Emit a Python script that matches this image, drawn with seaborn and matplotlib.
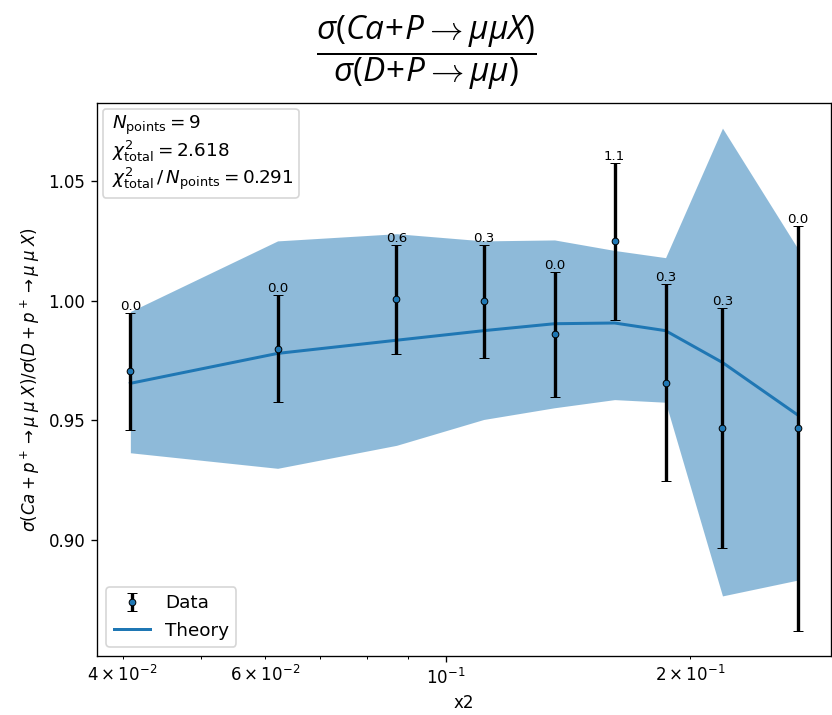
import matplotlib
matplotlib.use("Agg")
import matplotlib.pyplot as plt
import pandas as pd
import seaborn as sns
from matplotlib.patches import Patch

# Kinematic bins and measured ratio
x2 = [0.0409, 0.0621, 0.0870, 0.1114, 0.1362, 0.1615, 0.1866, 0.2193, 0.2714]
data = [0.9705, 0.9799, 1.0006, 0.9997, 0.9859, 1.0248, 0.9658, 0.9468, 0.9467]
data_err = [0.0245, 0.0223, 0.0227, 0.0237, 0.0262, 0.0328, 0.0410, 0.0500, 0.0846]

# Theory prediction with its uncertainty band
theory = [0.9655, 0.9780, 0.9835, 0.9875, 0.9904, 0.9907, 0.9875, 0.9742, 0.9523]
theory_hi = [0.9955, 1.0250, 1.0280, 1.0250, 1.0254, 1.0210, 1.0180, 1.0721, 1.0219]
theory_lo = [0.9365, 0.9300, 0.9396, 0.9504, 0.9553, 0.9587, 0.9576, 0.8767, 0.8833]

# Per-point chi2 contributions
chi2 = [0.0, 0.0, 0.6, 0.3, 0.0, 1.1, 0.3, 0.3, 0.0]
n_points = 9
chi2_total = 2.618
chi2_per_point = 0.291

plt.rcParams["mathtext.rm"] = "Open Sans"
plt.rcParams["mathtext.it"] = "Open Sans:italic"
plt.rcParams["mathtext.bf"] = "Open Sans:bold"

df = pd.DataFrame({"x2": x2, "theory": theory})

fig = plt.figure(figsize=(832 / 120, 715 / 120), dpi=120)
ax = fig.add_axes([97 / 832, 1 - 656 / 715, (831 - 97) / 832, (656 - 103) / 715])
ax.set_xscale("log")

ax.fill_between(x2, theory_lo, theory_hi, color="C0", alpha=0.5, linewidth=0)
sns.lineplot(data=df, x="x2", y="theory", ax=ax, color="C0", linewidth=1.8,
             label="Theory")
eb = ax.errorbar(x2, data, yerr=data_err, fmt="o", color="black", ecolor="black",
                 elinewidth=2, capsize=3, capthick=2, markersize=4,
                 markerfacecolor="C0", markeredgecolor="black",
                 markeredgewidth=0.6, label="Data")

for xv, yv, ev, c in zip(x2, data, data_err, chi2):
    ax.text(xv, yv + ev, f"{c:.1f}", ha="center", va="bottom", fontsize=8)

ax.set_xlabel("x2")
ax.set_ylabel(r"$\sigma(Ca + p^+ \rightarrow \mu\;\mu\;X)/\sigma(D + p^+ \rightarrow \mu\;\mu\;X)$")

# Fit-quality summary box
info = [rf"$N_{{\rm points}} = {n_points}$",
        rf"$\chi^2_{{\rm total}} = {chi2_total:.3f}$",
        rf"$\chi^2_{{\rm total}}\,/\,N_{{\rm points}} = {chi2_per_point:.3f}$"]
blank = [Patch(facecolor="none", edgecolor="none") for _ in info]
leg_info = ax.legend(blank, info, loc="upper left", handlelength=0,
                     handletextpad=0.2, borderaxespad=0.3, fontsize=11,
                     labelspacing=0.1, borderpad=0.3)
ax.add_artist(leg_info)

handles, labels = ax.get_legend_handles_labels()
order = [labels.index("Data"), labels.index("Theory")]
ax.legend([handles[i] for i in order], [labels[i] for i in order],
          loc="lower left", fontsize=11)

fig.text(426 / 832, 1 - 53 / 715,
         r"$\dfrac{\sigma(Ca\!+\!P\rightarrow\mu\mu X)}{\sigma(D\!+\!P\rightarrow\mu\mu)}$",
         ha="center", va="center", fontsize=20, math_fontfamily="custom")

fig.savefig("out.png", dpi=120)
